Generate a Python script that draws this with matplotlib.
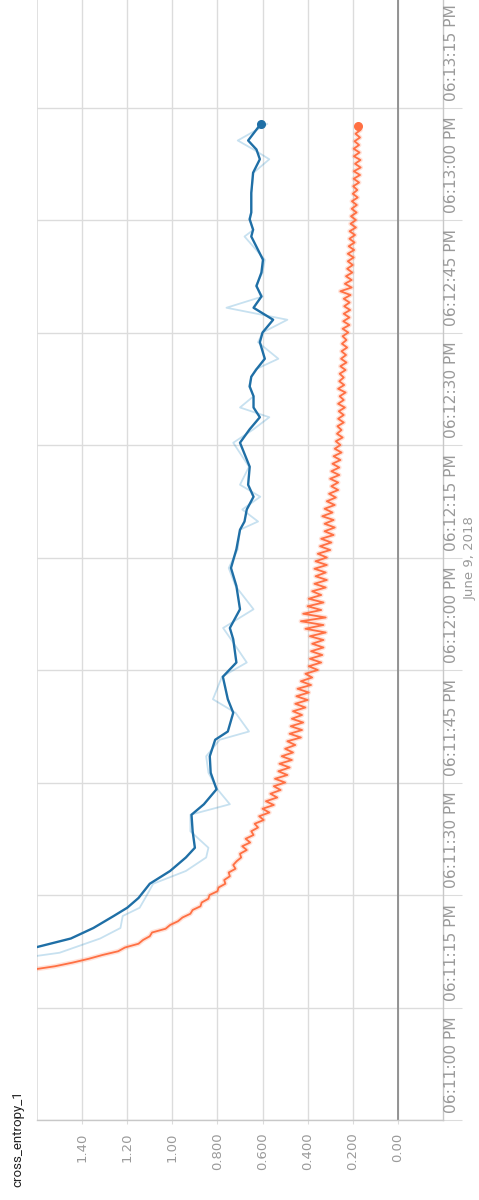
import numpy as np
import matplotlib
matplotlib.use("Agg")
import matplotlib.pyplot as plt

plt.rcParams["font.family"] = ["Liberation Sans Narrow", "DejaVu Sans"]

title = "cross_entropy_1"
date_label = "June 9, 2018"

value_ticks = [0.0, 0.2, 0.4, 0.6, 0.8, 1.0, 1.2, 1.4]
value_tick_labels = ["0.00", "0.200", "0.400", "0.600", "0.800", "1.00", "1.20", "1.40"]

# wall time, seconds after 06:11:00 PM
time_ticks = [0, 15, 30, 45, 60, 75, 90, 105, 120, 135]
time_tick_labels = ["06:11:00 PM", "06:11:15 PM", "06:11:30 PM", "06:11:45 PM",
                    "06:12:00 PM", "06:12:15 PM", "06:12:30 PM", "06:12:45 PM",
                    "06:13:00 PM", "06:13:15 PM"]

# blue run: smoothed and raw values
blue_seconds = [20.0, 22.3, 24.2, 25.6, 27.2, 28.3, 29.6, 31.5, 33.2, 35.0,
                36.3, 38.5, 40.7, 42.1, 44.1, 46.3, 48.5, 50.7, 51.8, 54.3,
                56.1, 59.1, 61.0, 64.1, 65.6, 68.1, 71.2, 73.6, 76.1, 78.7,
                79.8, 81.4, 83.1, 84.7, 87.1, 90.3, 92.1, 93.7, 95.0, 96.5,
                97.8, 99.1, 100.1, 101.5, 103.7, 105.0, 106.7, 108.3, 109.8, 111.2,
                113.0, 114.7, 117.8, 118.7, 120.1, 121.0, 123.6, 126.3, 128.1, 129.4,
                130.6, 132.8]
blue_smoothed = [2.05, 1.70, 1.45, 1.35, 1.26, 1.20, 1.15, 1.10, 1.01, 0.94,
                 0.90, 0.91, 0.915, 0.86, 0.804, 0.83, 0.834, 0.81, 0.754, 0.73,
                 0.754, 0.776, 0.716, 0.73, 0.745, 0.70, 0.716, 0.74, 0.716, 0.70,
                 0.68, 0.67, 0.64, 0.664, 0.657, 0.70, 0.657, 0.612, 0.64, 0.64,
                 0.657, 0.65, 0.627, 0.59, 0.612, 0.60, 0.553, 0.64, 0.605, 0.627,
                 0.605, 0.598, 0.65, 0.642, 0.657, 0.65, 0.65, 0.642, 0.612, 0.627,
                 0.664, 0.608]
blue_raw = [2.05, 1.50, 1.32, 1.23, 1.22, 1.145, 1.12, 1.085, 0.94, 0.85,
            0.84, 0.92, 0.92, 0.745, 0.80, 0.84, 0.85, 0.79, 0.66, 0.72,
            0.82, 0.78, 0.67, 0.74, 0.775, 0.64, 0.72, 0.75, 0.71, 0.70,
            0.62, 0.69, 0.61, 0.70, 0.66, 0.73, 0.64, 0.57, 0.70, 0.64,
            0.66, 0.65, 0.63, 0.53, 0.62, 0.60, 0.49, 0.76, 0.60, 0.63,
            0.60, 0.59, 0.68, 0.64, 0.66, 0.65, 0.65, 0.64, 0.57, 0.64,
            0.71, 0.58]

# orange run: one value every half second from 19.5 s
orange_start = 19.5
orange_step = 0.5
orange_values = [
    1.76, 1.63, 1.52, 1.44, 1.37, 1.31, 1.24, 1.21, 1.15, 1.13,
    1.10, 1.09, 1.03, 1.01, 0.975, 0.955, 0.92, 0.91, 0.875, 0.87,
    0.84, 0.835, 0.80, 0.795, 0.765, 0.77, 0.745, 0.75, 0.72, 0.73,
    0.715, 0.695, 0.70, 0.67, 0.69, 0.655, 0.675, 0.64, 0.65, 0.62,
    0.635, 0.595, 0.615, 0.57, 0.60, 0.55, 0.585, 0.535, 0.565, 0.52,
    0.55, 0.50, 0.545, 0.49, 0.53, 0.48, 0.525, 0.47, 0.515, 0.465,
    0.50, 0.455, 0.49, 0.43, 0.48, 0.425, 0.475, 0.42, 0.47, 0.425,
    0.465, 0.41, 0.455, 0.40, 0.45, 0.395, 0.445, 0.385, 0.43, 0.38,
    0.41, 0.355, 0.395, 0.34, 0.39, 0.335, 0.385, 0.33, 0.38, 0.33,
    0.39, 0.32, 0.41, 0.33, 0.43, 0.32, 0.42, 0.34, 0.40, 0.33,
    0.395, 0.34, 0.38, 0.32, 0.37, 0.315, 0.365, 0.32, 0.37, 0.315,
    0.365, 0.315, 0.355, 0.30, 0.345, 0.295, 0.34, 0.285, 0.325, 0.28,
    0.325, 0.285, 0.335, 0.29, 0.325, 0.28, 0.315, 0.275, 0.305, 0.265,
    0.295, 0.265, 0.30, 0.26, 0.295, 0.26, 0.29, 0.255, 0.285, 0.25,
    0.28, 0.255, 0.275, 0.245, 0.27, 0.25, 0.268, 0.24, 0.265, 0.24,
    0.262, 0.235, 0.265, 0.24, 0.258, 0.232, 0.265, 0.238, 0.26, 0.24,
    0.258, 0.232, 0.255, 0.228, 0.252, 0.23, 0.25, 0.225, 0.248, 0.228,
    0.245, 0.22, 0.245, 0.215, 0.242, 0.215, 0.24, 0.212, 0.238, 0.214,
    0.24, 0.21, 0.255, 0.205, 0.235, 0.205, 0.23, 0.202, 0.225, 0.2,
    0.222, 0.196, 0.222, 0.194, 0.218, 0.192, 0.215, 0.19, 0.214, 0.186,
    0.21, 0.186, 0.208, 0.183, 0.205, 0.182, 0.204, 0.178, 0.2, 0.18,
    0.198, 0.172, 0.196, 0.168, 0.195, 0.165, 0.19, 0.166, 0.195, 0.17,
    0.196, 0.172, 0.192, 0.168, 0.188, 0.166, 0.176,
]
orange_seconds = orange_start + orange_step * np.arange(len(orange_values))

BLUE = "#1f6fa6"
BLUE_RAW = "#0077bb"
ORANGE = "#ff7043"
GRID = "#dcdcdc"
LABEL = "#9a9a9a"

W, H = 479, 1200
fig = plt.figure(figsize=(W / 100, H / 100), dpi=100)
fig.patch.set_facecolor("white")

# the value axis runs left-to-right from high to low, time runs upward
ax_left, ax_right, ax_top, ax_bottom = 37, 443, 0, 1120
ax = fig.add_axes([ax_left / W, 1 - ax_bottom / H,
                   (ax_right - ax_left) / W, (ax_bottom - ax_top) / H])
ax.set_xlim(1.60, -0.20)
ax.set_ylim(0, (ax_bottom - ax_top) / 7.5)
ax.set_axisbelow(True)

ax.set_xticks(value_ticks, value_tick_labels)
ax.set_yticks(time_ticks)
ax.grid(True, color=GRID, lw=1.0)
ax.axvline(1.60, color=GRID, lw=1.2)
ax.axvline(0.0, color="#8c8c8c", lw=1.3, zorder=1.5)

ax.tick_params(axis="x", labelrotation=90, length=3, pad=6, color=GRID,
               labelcolor=LABEL, labelsize=9.5)
ax.yaxis.tick_right()
ax.tick_params(axis="y", length=14, color=GRID, labelright=False, labelleft=False)

for side in ("top", "left"):
    ax.spines[side].set_visible(False)
for side in ("right", "bottom"):
    ax.spines[side].set_color("#c8c8c8")
    ax.spines[side].set_linewidth(1.0)

# time labels sit just after their tick
ytrans = ax.get_yaxis_transform()
label_x = (452 - ax_left) / (ax_right - ax_left)
for t, lab in zip(time_ticks, time_tick_labels):
    ax.text(label_x, t + 0.9, lab, transform=ytrans, rotation=90,
            ha="center", va="bottom", fontsize=11.2, color=LABEL, clip_on=False)

fig.text(470 / W, 1 - 558 / H, date_label, rotation=90, ha="center",
         va="center", fontsize=9.5, color=LABEL)
fig.text(18 / W, 1 - 1187 / H, title, rotation=90, ha="center", va="bottom",
         fontsize=9.5, color="#212121", family=["Roboto", "DejaVu Sans"])

# raw traces
ax.plot(blue_raw, blue_seconds, color=BLUE_RAW, alpha=0.22, lw=1.3)
ax.plot(orange_values, orange_seconds, color=ORANGE, alpha=0.2, lw=3.4)
# smoothed traces
ax.plot(blue_smoothed, blue_seconds, color=BLUE, lw=1.7)
ax.plot(orange_values, orange_seconds, color=ORANGE, lw=1.3)
ax.plot(blue_smoothed[-1], blue_seconds[-1], "o", ms=5.5, color=BLUE)
ax.plot(orange_values[-1], orange_seconds[-1], "o", ms=5.5, color=ORANGE)

fig.savefig("out.png", dpi=100, facecolor="white")
